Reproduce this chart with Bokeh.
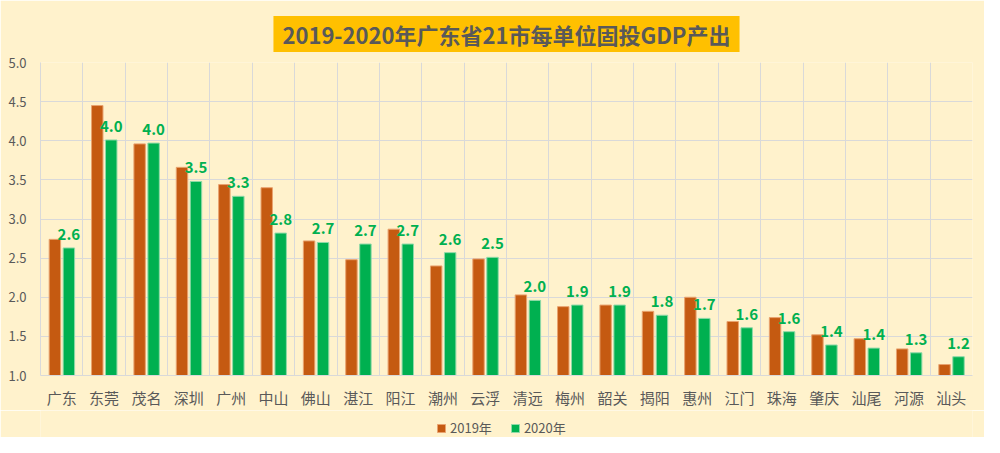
from bokeh.plotting import figure
from bokeh.layouts import column
from bokeh.models import Range1d, FixedTicker, Legend, LegendItem, ColumnDataSource, Title, NumeralTickFormatter
from bokeh.core.properties import value
from bokeh.embed import file_html
from bokeh.resources import INLINE

cities = ["广东", "东莞", "茂名", "深圳", "广州", "中山", "佛山", "湛江", "阳江", "潮州", "云浮",
          "清远", "梅州", "韶关", "揭阳", "惠州", "江门", "珠海", "肇庆", "汕尾", "河源", "汕头"]
v2019 = [2.74, 4.45, 3.96, 3.66, 3.44, 3.40, 2.72, 2.48, 2.87, 2.40, 2.49,
         2.03, 1.88, 1.90, 1.82, 2.00, 1.69, 1.74, 1.52, 1.47, 1.34, 1.14]
v2020 = [2.63, 4.01, 3.97, 3.48, 3.29, 2.82, 2.70, 2.68, 2.68, 2.57, 2.51,
         1.96, 1.90, 1.90, 1.77, 1.73, 1.61, 1.56, 1.39, 1.35, 1.29, 1.24]
labels2020 = ["2.6", "4.0", "4.0", "3.5", "3.3", "2.8", "2.7", "2.7", "2.7", "2.6", "2.5",
              "2.0", "1.9", "1.9", "1.8", "1.7", "1.6", "1.6", "1.4", "1.4", "1.3", "1.2"]
series_names = ["2019年", "2020年"]
title_text = "2019-2020年广东省21市每单位固投GDP产出"

FONT = "Noto Sans CJK SC"
BG = "#FFF2CC"
C19 = "#C55A11"
C20 = "#00B050"
L19 = "#E9A36F"
L20 = "#8FD9A8"
GRID = "#D9D9D9"
TXT = "#595959"

n = len(cities)
idx = list(range(n))
src = ColumnDataSource(dict(
    x19=[i + 0.5 - 0.16 for i in idx],
    x20=[i + 0.5 + 0.17 for i in idx],
    v19=v2019, v20=v2020, lab=labels2020,
))

fig = figure(width=984, height=410, output_backend="svg", toolbar_location=None,
             x_range=Range1d(0, n), y_range=Range1d(1.0, 5.0),
             min_border_left=40, min_border_right=12, min_border_top=62, min_border_bottom=35)
fig.background_fill_color = BG
fig.border_fill_color = BG
fig.outline_line_color = None

fig.vbar(x="x19", top="v19", bottom=1.0, width=0.27, source=src,
         fill_color=C19, line_color=L19, line_width=1)
fig.vbar(x="x20", top="v20", bottom=1.0, width=0.27, source=src,
         fill_color=C20, line_color=L20, line_width=1)

fig.text(x="x20", y="v20", text="lab", source=src, text_align="center", text_baseline="bottom",
         y_offset=-8, text_color=C20, text_font=value(FONT), text_font_size="15px",
         text_font_style="bold")

# axes
fig.xaxis.ticker = FixedTicker(ticks=[i + 0.5 for i in idx])
fig.xaxis.major_label_overrides = {i + 0.5: c for i, c in enumerate(cities)}
fig.xaxis.major_tick_line_color = None
fig.xaxis.minor_tick_line_color = None
fig.xaxis.axis_line_color = GRID
fig.xaxis.major_label_text_font = FONT
fig.xaxis.major_label_text_font_size = "15px"
fig.xaxis.major_label_text_color = TXT
fig.xaxis.major_label_standoff = 5

fig.yaxis.ticker = FixedTicker(ticks=[1.0, 1.5, 2.0, 2.5, 3.0, 3.5, 4.0, 4.5, 5.0])
fig.yaxis.formatter = NumeralTickFormatter(format="0.0")
fig.yaxis.major_tick_line_color = None
fig.yaxis.minor_tick_line_color = None
fig.yaxis.axis_line_color = GRID
fig.yaxis.major_label_text_font = FONT
fig.yaxis.major_label_text_font_size = "13px"
fig.yaxis.major_label_text_color = TXT
fig.yaxis.major_label_standoff = 8

fig.xgrid.ticker = FixedTicker(ticks=list(range(n + 1)))
fig.xgrid.grid_line_color = GRID
fig.ygrid.grid_line_color = GRID

t = Title(text=title_text, align="center", text_font=FONT, text_font_size="22px",
          text_font_style="bold", text_color=TXT, background_fill_color="#FFC000",
          standoff=21, padding=(9, 2))
fig.add_layout(t, "above")

# legend strip below the chart: same bar styles, renderers hidden so only the legend shows
leg = figure(width=984, height=27, output_backend="svg", toolbar_location=None,
             x_range=Range1d(0, n), y_range=Range1d(1.0, 5.0),
             x_axis_location=None, y_axis_location=None, min_border=0)
leg.background_fill_color = BG
leg.border_fill_color = BG
leg.outline_line_color = None
leg.grid.visible = False
lr19 = leg.vbar(x="x19", top="v19", bottom=1.0, width=0.27, source=src,
                fill_color=C19, line_color=L19, line_width=1)
lr20 = leg.vbar(x="x20", top="v20", bottom=1.0, width=0.27, source=src,
                fill_color=C20, line_color=L20, line_width=1)
lr19.visible = False
lr20.visible = False
legend = Legend(items=[LegendItem(label=series_names[0], renderers=[lr19]),
                       LegendItem(label=series_names[1], renderers=[lr20])],
                orientation="horizontal", location=(396, 0),
                background_fill_alpha=0, border_line_color=None,
                label_text_font=FONT, label_text_font_size="13px", label_text_color=TXT,
                glyph_width=10, glyph_height=10, label_standoff=4, spacing=18,
                margin=0, padding=3)
leg.add_layout(legend, "center")

p = column(fig, leg, spacing=0)

open("out.html", "w").write(file_html(p, INLINE))
